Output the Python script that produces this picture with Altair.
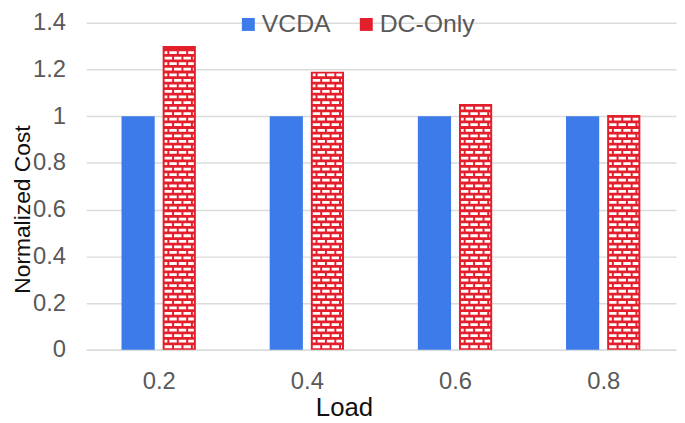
import altair as alt
import pandas as pd

# ---- data ----
loads = [0.2, 0.4, 0.6, 0.8]
vcda = [1.0, 1.0, 1.0, 1.0]
dc_only = [1.30, 1.19, 1.052, 1.005]
series_names = ["VCDA", "DC-Only"]
x_ticks = [0.2, 0.4, 0.6, 0.8]
y_ticks = [0, 0.2, 0.4, 0.6, 0.8, 1.0, 1.2, 1.4]

rows = []
for l, a, b in zip(loads, vcda, dc_only):
    rows.append({"Load": l, "series": "VCDA", "value": a})
    rows.append({"Load": l, "series": "DC-Only", "value": b})
df = pd.DataFrame(rows)

# ---- layout constants (pixels) ----
W, H = 595, 330
XD = [0.1023, 0.8983]
YD = [0, 1.4]
XU = (XD[1] - XD[0]) / W      # data units per px (x)
YU = (YD[1] - YD[0]) / H      # data units per px (y)
OFF = 20.75                   # bar centre offset from group centre
HALF = 16.75                  # half bar width
BORDER = 2.0                  # red border around bricks
PITCH = 5.6                   # brick row pitch
BRICK_H = 2.8                 # brick height

BLUE = "#3D7BEA"
RED = "#E41F2C"
GRID = "#D9DCD9"
FONT = "Liberation Sans"

xs = alt.Scale(domain=XD, nice=False, zero=False)
ys = alt.Scale(domain=YD, nice=False)

bars = alt.Chart(df).transform_calculate(
    c=f"datum.Load + (datum.series == 'VCDA' ? {-OFF} : {OFF}) * {XU}",
).transform_calculate(
    x1=f"datum.c - {HALF * XU}",
    x2=f"datum.c + {HALF * XU}",
).mark_bar(stroke=None).encode(
    x=alt.X("x1:Q", scale=xs, axis=alt.Axis(
        values=x_ticks, format=".1f", grid=False, domain=True,
        domainColor=GRID, domainWidth=1.5, ticks=False, tickSize=0,
        labelFontSize=24, labelColor="#595959", labelFont=FONT,
        labelBaseline="alphabetic", labelPadding=39,
        title="Load", titleFontSize=26, titleFont=FONT, titleColor="#111111",
        titleFontWeight="normal", titleX=260, titleY=66,
        titleBaseline="alphabetic", titleAlign="center")),
    x2="x2:Q",
    y=alt.Y("value:Q", scale=ys, axis=alt.Axis(
        values=y_ticks, format="~g", grid=True, gridColor=GRID, gridWidth=1.5,
        domain=False, ticks=False, tickSize=0,
        labelFontSize=24, labelColor="#595959", labelFont=FONT, labelPadding=21,
        title="Normalized Cost", titleFontSize=23, titleFont=FONT,
        titleColor="#111111", titleFontWeight="normal", titleAngle=-90,
        titleX=-57, titleY=188, titleBaseline="alphabetic", titleAlign="center")),
    y2=alt.datum(0),
    color=alt.Color("series:N", scale=alt.Scale(domain=series_names, range=[BLUE, RED]),
                    legend=alt.Legend(
                        title=None, orient="none", legendX=151, legendY=-11,
                        direction="horizontal", symbolType="square", symbolSize=170,
                        symbolStrokeWidth=0, labelFontSize=25, labelFont=FONT,
                        labelColor="#595959", labelOffset=1, columnPadding=23,
                        padding=0)),
)

P = PITCH * YU
bricks_base = alt.Chart(df).transform_filter(
    "datum.series == 'DC-Only'"
).transform_calculate(
    rows=f"sequence(0, floor(datum.value / {P}) + 1)"
).transform_flatten(["rows"]).transform_calculate(
    yb=f"datum.rows * {P} + {0.55 * P}",
    x1=f"datum.Load + {(OFF - HALF + BORDER) * XU}",
    x2=f"datum.Load + {(OFF + HALF - BORDER) * XU}",
).transform_filter(
    f"datum.yb + {(BRICK_H / 2 + 1.2) * YU} <= datum.value"
)

enc = dict(
    x=alt.X("x1:Q", scale=xs),
    x2="x2:Q",
    y=alt.Y("yb:Q", scale=ys),
)

bricks_even = bricks_base.transform_filter("datum.rows % 2 == 0").mark_rule(
    color="white", strokeWidth=BRICK_H, strokeDash=[7.5, 2], strokeDashOffset=0
).encode(**enc)
bricks_odd = bricks_base.transform_filter("datum.rows % 2 == 1").mark_rule(
    color="white", strokeWidth=BRICK_H, strokeDash=[7.5, 2], strokeDashOffset=4.75
).encode(**enc)

chart = alt.layer(bars, bricks_even, bricks_odd).properties(
    width=W, height=H,
    autosize=alt.AutoSizeParams(type="none"),
    padding={"left": 79, "top": 13, "right": 1, "bottom": 72},
    background="white",
).configure_view(stroke=None)

chart.save("out.html", embed_options={"renderer": "svg", "actions": False})
